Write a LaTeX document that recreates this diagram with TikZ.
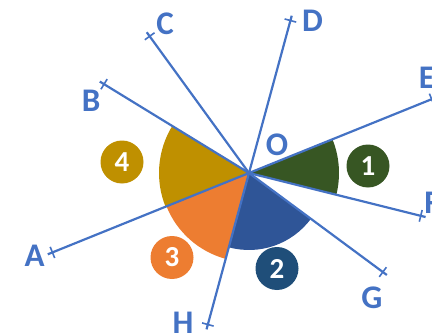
\documentclass[tikz,border=0pt]{standalone}
\usepackage{fontspec}
\setmainfont{Carlito}
\usepackage{xcolor}
\usetikzlibrary{calc}

\definecolor{rayblue}{HTML}{4472C4}
\definecolor{sgreen}{HTML}{375623}
\definecolor{sblue}{HTML}{2F5597}
\definecolor{sorange}{HTML}{ED7D31}
\definecolor{sgold}{HTML}{BF9000}
\definecolor{bblue}{HTML}{1F4E79}

\tikzset{
  ray/.style={draw=rayblue,line width=2.2pt},
  tickmark/.style={draw=rayblue,line width=1.6pt},
  letter/.style={text=rayblue,inner sep=0pt,font=\fontsize{33}{36}\selectfont\bfseries},
  badge/.style={circle,minimum size=43pt,inner sep=0pt,text=white,font=\fontsize{29}{32}\selectfont\bfseries},
}

\begin{document}
\begin{tikzpicture}[x=1pt,y=1pt]
  \useasboundingbox (0,0) rectangle (432,333);

  % Centre point O
  \coordinate (O) at (249,160);

  % Ray ends and tick points
  \foreach \n/\a/\l in {A/202/212, B/148.5/170, C/126/169, D/74.8/158,
                        E/22/197, F/-14/177, G/-36.5/166.5, H/254.8/157}{
    \coordinate (\n) at ($(O)+(\a:\l+5)$);
    \coordinate (t\n) at ($(O)+(\a:\l)$);
  }

  % Filling sector 1
  \fill[sgreen] (O) -- ++(-14:90) arc[start angle=-14,end angle=22,radius=90] -- cycle;
  % Filling sector 2
  \fill[sblue] (O) -- ++(254.8:77) arc[start angle=254.8,end angle=323.5,radius=77] -- cycle;
  % Filling sector 3
  \fill[sorange] (O) -- ++(202:89) arc[start angle=202,end angle=254.8,radius=89] -- cycle;
  % Filling sector 4
  \fill[sgold] (O) -- ++(148.5:90) arc[start angle=148.5,end angle=202,radius=90] -- cycle;

  % Drawing lines A E and D H
  \draw[ray] (A) -- (E);
  \draw[ray] (D) -- (H);
  % Drawing rays O B, O C, O F, O G
  \draw[ray] (O) -- (B);
  \draw[ray] (O) -- (C);
  \draw[ray] (O) -- (F);
  \draw[ray] (O) -- (G);

  % Tick marks
  \foreach \n in {A,B,C,D,E,F,G,H}{
    \draw[tickmark] ($(t\n)!6pt!90:(O)$) -- ($(t\n)!6pt!-90:(O)$);
  }

  % Letters
  \node[letter] (lA) at (34.5,77) {A};
  \node[letter] (lB) at (91,232) {B};
  \node[letter] (lC) at (165,309) {C};
  \node[letter] (lD) at (312.5,312) {D};
  \node[letter] (lE) at (427,255.5) {E};
  \node[letter] (lF) at (432,130.5) {F};
  \node[letter] (lG) at (372,35.5) {G};
  \node[letter] (lH) at (183,10.5) {H};
  \node[letter] (lO) at (277,188) {O};

  % Numbered badges
  \node[badge,fill=sgreen] (b1) at (368,167) {1};
  \node[badge,fill=bblue] (b2) at (277,64.5) {2};
  \node[badge,fill=sorange] (b3) at (172,75.5) {3};
  \node[badge,fill=sgold] (b4) at (122,171) {4};
\end{tikzpicture}
\end{document}
